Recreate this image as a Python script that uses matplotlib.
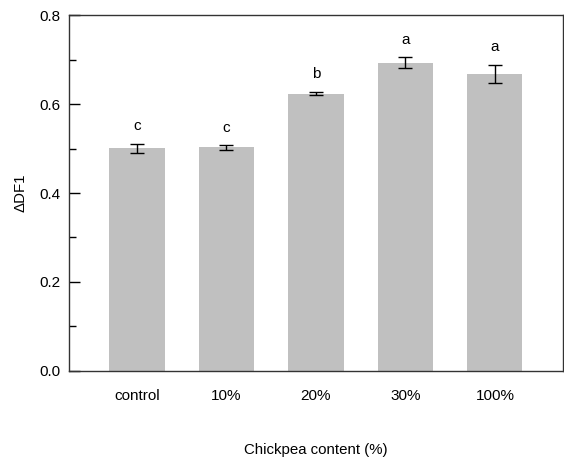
import matplotlib
matplotlib.use("Agg")
import matplotlib.pyplot as plt
from matplotlib.ticker import MultipleLocator, FormatStrFormatter

plt.rcParams['font.family'] = ['Liberation Sans', 'DejaVu Sans']

categories = ["control", "10%", "20%", "30%", "100%"]
values = [0.501, 0.503, 0.624, 0.694, 0.668]
errors = [0.010, 0.005, 0.004, 0.012, 0.021]
letters = ["c", "c", "b", "a", "a"]

fig = plt.figure(figsize=(5.64, 4.58), dpi=100)
ax = fig.add_axes([0.1223, 0.1906, 0.8759, 0.7756])

x = list(range(len(categories)))
ax.bar(x, values, width=0.615, color="#c0c0c0", edgecolor="none", zorder=2)
ax.errorbar(x, values, yerr=errors, fmt="none", ecolor="black",
            elinewidth=1.0, capsize=5, capthick=1.0, zorder=3)

for xi, v, e, t in zip(x, values, errors, letters):
    ax.annotate(t, (xi, v + e), xytext=(0, 7.5), textcoords="offset points",
                ha="center", va="bottom", fontsize=11)

ax.set_xlim(-0.76, 4.76)
ax.set_ylim(0, 0.8)
ax.set_xticks(x)
ax.set_xticklabels(categories, fontsize=11)
ax.yaxis.set_major_locator(MultipleLocator(0.2))
ax.yaxis.set_minor_locator(MultipleLocator(0.1))
ax.yaxis.set_major_formatter(FormatStrFormatter("%.1f"))
ax.tick_params(axis="y", which="major", direction="in", length=8, width=1,
               labelsize=11, pad=6)
ax.tick_params(axis="y", which="minor", direction="in", length=5, width=1)
ax.tick_params(axis="x", which="both", length=0, pad=13)

for s in ax.spines.values():
    s.set_linewidth(1.0)
    s.set_color("#333333")

ax.set_xlabel("Chickpea content (%)", fontsize=10.8, va="center")
ax.xaxis.set_label_coords(0.5, -0.223)
ax.set_ylabel("ΔDF1", fontsize=10.8, va="center")
ax.yaxis.set_label_coords(-0.099, 0.5)

fig.savefig("out.png", dpi=100)
